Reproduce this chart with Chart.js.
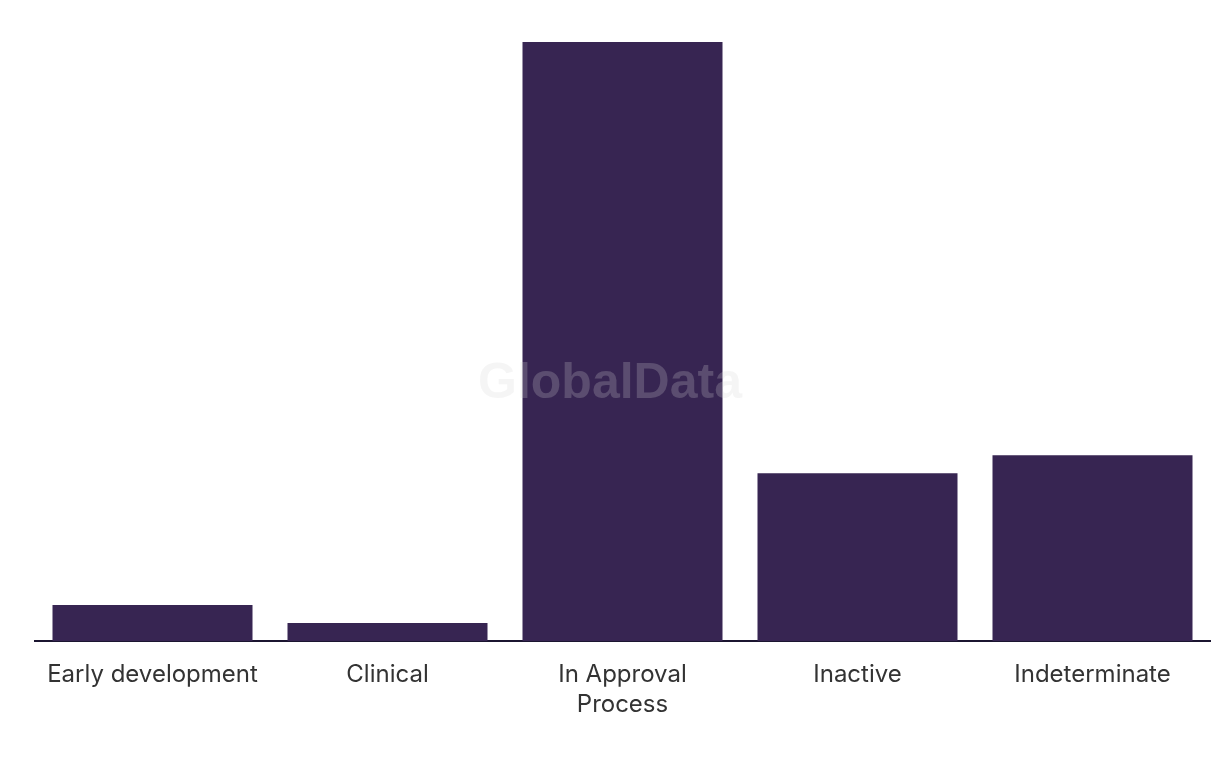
<!DOCTYPE html>
<html>
<head>
<meta charset="utf-8">
<script src="https://cdn.jsdelivr.net/npm/chart.js@4/dist/chart.umd.min.js"></script>
<style>
html,body{margin:0;padding:0;background:#fff;}
#wrap{width:1220px;height:766px;position:relative;}
</style>
</head>
<body>
<div id="wrap"><canvas id="c" width="1220" height="766"></canvas></div>
<script>
const categories = [["Early development"], ["Clinical"], ["In Approval", "Process"], ["Inactive"], ["Indeterminate"]];
const values = [6, 3, 100, 28, 31];
const barColor = "#372552";

const watermark = {
  id: 'watermark',
  afterDraw(chart) {
    const ctx = chart.ctx;
    ctx.save();
    ctx.font = 'bold 50px "Liberation Sans", Arial, sans-serif';
    ctx.fillStyle = 'rgba(211,211,211,0.23)';
    ctx.textAlign = 'center';
    ctx.textBaseline = 'middle';
    ctx.fillText('GlobalData', 610, 384);
    ctx.restore();
  }
};

new Chart(document.getElementById('c'), {
  type: 'bar',
  data: {
    labels: categories,
    datasets: [{
      data: values,
      backgroundColor: barColor,
      borderWidth: 0,
      categoryPercentage: 1,
      barPercentage: 200/235
    }]
  },
  options: {
    responsive: false,
    animation: false,
    layout: { padding: { top: 42, left: 35, right: 10, bottom: 0 } },
    plugins: { legend: { display: false }, tooltip: { enabled: false } },
    scales: {
      x: {
        grid: { display: true, drawOnChartArea: false, drawTicks: false, color: 'transparent' },
        border: { display: true, color: '#1b1530', width: 2 },
        ticks: {
          color: '#333333',
          padding: 19,
          maxRotation: 0,
          autoSkip: false,
          font: { family: 'Inter, "Open Sans", sans-serif', size: 24, lineHeight: 30/24 }
        },
        afterFit(scale) { scale.height = 125; }
      },
      y: {
        display: false,
        min: 0,
        max: 100
      }
    }
  },
  plugins: [watermark]
});
</script>
</body>
</html>
